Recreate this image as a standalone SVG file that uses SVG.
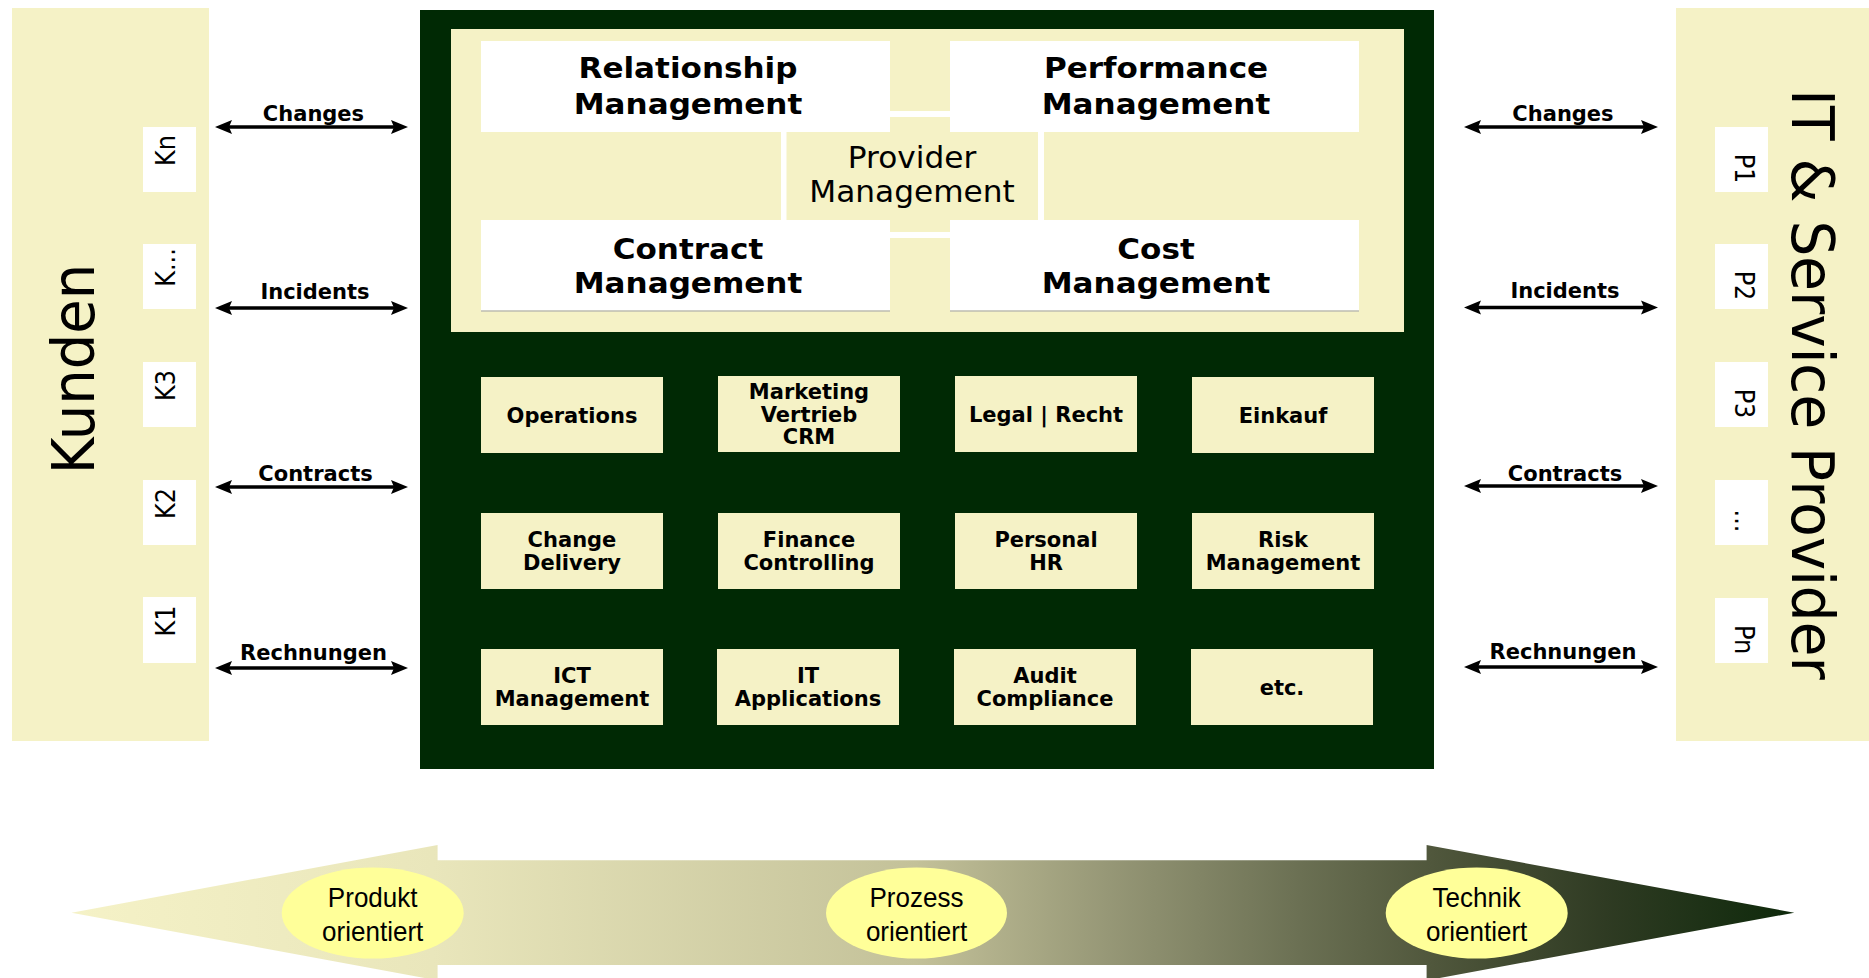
<svg xmlns="http://www.w3.org/2000/svg" width="1869" height="978" viewBox="0 0 1869 978">
<defs>
<style>
.cream{fill:#F5F2C6}
.white{fill:#FFFFFF}
.dark{fill:#002904}
text{font-family:"DejaVu Sans",Verdana,sans-serif;fill:#000}
.title{font-size:27.5px;font-weight:bold;text-anchor:middle}
.prov{font-size:30px;text-anchor:middle}
.small{font-size:21px;font-weight:bold;text-anchor:middle}
.lab{font-size:21px;font-weight:bold;text-anchor:middle}
.kp{font-size:24px;text-anchor:middle}
.side{text-anchor:middle}
.ell{font-family:"Liberation Sans",Arial,sans-serif;font-size:28px;text-anchor:middle}
.arr{stroke:#000;stroke-width:3.5;fill:none}
.oval{fill:#FFFF99}
</style>
<marker id="ah" markerUnits="userSpaceOnUse" markerWidth="18" markerHeight="16" viewBox="0 -8 18 16" refX="7" refY="0" orient="auto-start-reverse">
<path d="M0,-7 L17,0 L0,7 L3,0 Z" fill="#000"/>
</marker>
<linearGradient id="grad" gradientUnits="userSpaceOnUse" x1="71.5" y1="0" x2="1794.3" y2="0">
<stop offset="0" stop-color="#F5F2C7"/>
<stop offset="0.21" stop-color="#E9E6BB"/>
<stop offset="0.49" stop-color="#C3C199"/>
<stop offset="0.6" stop-color="#979877"/>
<stop offset="0.71" stop-color="#6C7154"/>
<stop offset="0.79" stop-color="#50573C"/>
<stop offset="0.89" stop-color="#2F3B23"/>
<stop offset="1" stop-color="#0E290B"/>
</linearGradient>
</defs>
<rect width="1869" height="978" fill="#FFFFFF"/>

<g id="kunden">
<rect class="cream" x="12" y="8" width="197" height="733"/>
<text class="side" font-size="56" transform="translate(94,369) rotate(-90) scale(1,1.04)">Kunden</text>
<g id="kn"><rect class="white" x="143" y="127" width="53" height="65"/><text class="kp" transform="translate(175,150.5) rotate(-90) scale(1,1.14)">Kn</text></g>
<g id="kdots"><rect class="white" x="143" y="244" width="53" height="65"/><text class="kp" transform="translate(175,267.5) rotate(-90) scale(1,1.14)">K...</text></g>
<g id="k3"><rect class="white" x="143" y="362" width="53" height="65"/><text class="kp" transform="translate(175,385.5) rotate(-90) scale(1,1.14)">K3</text></g>
<g id="k2"><rect class="white" x="143" y="480" width="53" height="65"/><text class="kp" transform="translate(175,503.5) rotate(-90) scale(1,1.14)">K2</text></g>
<g id="k1"><rect class="white" x="143" y="597" width="53" height="66"/><text class="kp" transform="translate(175,621) rotate(-90) scale(1,1.14)">K1</text></g>
</g>

<g id="provider">
<rect class="cream" x="1676" y="8" width="193" height="733"/>
<text class="side" font-size="56.5" transform="translate(1791.7,384.5) rotate(90) scale(1,1.05)">IT &amp; Service Provider</text>
<g id="p1"><rect class="white" x="1715" y="127" width="53" height="65"/><text class="kp" transform="translate(1735,168.5) rotate(90) scale(1,1.14)">P1</text></g>
<g id="p2"><rect class="white" x="1715" y="244" width="53" height="65"/><text class="kp" transform="translate(1735,285.5) rotate(90) scale(1,1.14)">P2</text></g>
<g id="p3"><rect class="white" x="1715" y="362" width="53" height="65"/><text class="kp" transform="translate(1735,403.5) rotate(90) scale(1,1.14)">P3</text></g>
<g id="pdots"><rect class="white" x="1715" y="480" width="53" height="65"/><text class="kp" transform="translate(1735,521) rotate(90) scale(1,1.14)">...</text></g>
<g id="pn"><rect class="white" x="1715" y="598" width="53" height="65"/><text class="kp" transform="translate(1735,639.5) rotate(90) scale(1,1.14)">Pn</text></g>
</g>

<g id="center">
<rect class="dark" x="420" y="10" width="1014" height="759"/>
<rect class="cream" x="451" y="29" width="953" height="303"/>
<g id="provider-management">
<rect class="white" x="781" y="111" width="263" height="127"/>
<rect class="cream" x="786.5" y="117" width="251.5" height="115"/>
<text class="prov" transform="translate(912,0) scale(1.04,1)"><tspan x="0" y="168.3">Provider</tspan><tspan x="0" y="202.3">Management</tspan></text>
</g>
<g id="relationship">
<rect class="white" x="481" y="41" width="409" height="91"/>
<text class="title" transform="translate(688,0) scale(1.13,1)"><tspan x="0" y="78.3">Relationship</tspan><tspan x="0" y="114">Management</tspan></text>
</g>
<g id="performance">
<rect class="white" x="950" y="41" width="409" height="91"/>
<text class="title" transform="translate(1156,0) scale(1.13,1)"><tspan x="0" y="78.3">Performance</tspan><tspan x="0" y="114">Management</tspan></text>
</g>
<g id="contract">
<rect class="white" x="481" y="220" width="409" height="91"/>
<line x1="481" y1="311" x2="890" y2="311" stroke="#BDBDB0" stroke-width="1.5"/>
<text class="title" transform="translate(688,0) scale(1.13,1)"><tspan x="0" y="259.3">Contract</tspan><tspan x="0" y="293.3">Management</tspan></text>
</g>
<g id="cost">
<rect class="white" x="950" y="220" width="409" height="91"/>
<line x1="950" y1="311" x2="1359" y2="311" stroke="#BDBDB0" stroke-width="1.5"/>
<text class="title" transform="translate(1156,0) scale(1.13,1)"><tspan x="0" y="259.3">Cost</tspan><tspan x="0" y="293.3">Management</tspan></text>
</g>

<g id="operations"><rect class="cream" x="481" y="377" width="182" height="76"/><text class="small" x="572" y="422.5">Operations</text></g>
<g id="marketing"><rect class="cream" x="718" y="376" width="182" height="76"/><text class="small"><tspan x="809" y="398.5">Marketing</tspan><tspan x="809" y="421.5">Vertrieb</tspan><tspan x="809" y="444">CRM</tspan></text></g>
<g id="legal"><rect class="cream" x="955" y="376" width="182" height="76"/><text class="small" x="1046" y="422">Legal | Recht</text></g>
<g id="einkauf"><rect class="cream" x="1192" y="377" width="182" height="76"/><text class="small" x="1283" y="422.5">Einkauf</text></g>

<g id="change"><rect class="cream" x="481" y="513" width="182" height="76"/><text class="small"><tspan x="572" y="547">Change</tspan><tspan x="572" y="570">Delivery</tspan></text></g>
<g id="finance"><rect class="cream" x="718" y="513" width="182" height="76"/><text class="small"><tspan x="809" y="547">Finance</tspan><tspan x="809" y="570">Controlling</tspan></text></g>
<g id="personal"><rect class="cream" x="955" y="513" width="182" height="76"/><text class="small"><tspan x="1046" y="547">Personal</tspan><tspan x="1046" y="570">HR</tspan></text></g>
<g id="risk"><rect class="cream" x="1192" y="513" width="182" height="76"/><text class="small"><tspan x="1283" y="547">Risk</tspan><tspan x="1283" y="570">Management</tspan></text></g>

<g id="ict"><rect class="cream" x="481" y="649" width="182" height="76"/><text class="small"><tspan x="572" y="683">ICT</tspan><tspan x="572" y="706">Management</tspan></text></g>
<g id="itapps"><rect class="cream" x="717" y="649" width="182" height="76"/><text class="small"><tspan x="808" y="683">IT</tspan><tspan x="808" y="706">Applications</tspan></text></g>
<g id="audit"><rect class="cream" x="954" y="649" width="182" height="76"/><text class="small"><tspan x="1045" y="683">Audit</tspan><tspan x="1045" y="706">Compliance</tspan></text></g>
<g id="etc"><rect class="cream" x="1191" y="649" width="182" height="76"/><text class="small" x="1282" y="695">etc.</text></g>
</g>

<g id="connectors">
<line class="arr" x1="225" y1="127" x2="398" y2="127" marker-start="url(#ah)" marker-end="url(#ah)"/>
<line class="arr" x1="225" y1="308" x2="398" y2="308" marker-start="url(#ah)" marker-end="url(#ah)"/>
<line class="arr" x1="225" y1="487" x2="398" y2="487" marker-start="url(#ah)" marker-end="url(#ah)"/>
<line class="arr" x1="225" y1="668" x2="398" y2="668" marker-start="url(#ah)" marker-end="url(#ah)"/>
<line class="arr" x1="1474" y1="127" x2="1648" y2="127" marker-start="url(#ah)" marker-end="url(#ah)"/>
<line class="arr" x1="1474" y1="307.5" x2="1648" y2="307.5" marker-start="url(#ah)" marker-end="url(#ah)"/>
<line class="arr" x1="1474" y1="486" x2="1648" y2="486" marker-start="url(#ah)" marker-end="url(#ah)"/>
<line class="arr" x1="1474" y1="667" x2="1648" y2="667" marker-start="url(#ah)" marker-end="url(#ah)"/>
<text class="lab" x="313.5" y="120.7">Changes</text>
<text class="lab" x="315" y="299.3">Incidents</text>
<text class="lab" x="315.5" y="481">Contracts</text>
<text class="lab" x="313.5" y="660">Rechnungen</text>
<text class="lab" x="1563" y="120.7">Changes</text>
<text class="lab" x="1565" y="298.3">Incidents</text>
<text class="lab" x="1565" y="480.7">Contracts</text>
<text class="lab" x="1563" y="658.7">Rechnungen</text>
</g>

<g id="orientation-arrow">
<polygon points="71.5,912.7 437.6,845 437.6,860.3 1426.6,860.3 1426.6,845 1794.3,912.7 1426.6,980.4 1426.6,965 437.6,965 437.6,980.4" fill="url(#grad)"/>
<g id="produkt">
<ellipse class="oval" cx="372.7" cy="913" rx="91" ry="45.5"/>
<text class="ell" transform="translate(372.7,0) scale(0.93,1)"><tspan x="0" y="907.5">Produkt</tspan><tspan x="0" y="941">orientiert</tspan></text>
</g>
<g id="prozess">
<ellipse class="oval" cx="916.5" cy="913" rx="90.5" ry="45.5"/>
<text class="ell" transform="translate(916.5,0) scale(0.93,1)"><tspan x="0" y="907.5">Prozess</tspan><tspan x="0" y="941">orientiert</tspan></text>
</g>
<g id="technik">
<ellipse class="oval" cx="1476.7" cy="913" rx="91" ry="45.5"/>
<text class="ell" transform="translate(1476.7,0) scale(0.93,1)"><tspan x="0" y="907.5">Technik</tspan><tspan x="0" y="941">orientiert</tspan></text>
</g>
</g>
</svg>
